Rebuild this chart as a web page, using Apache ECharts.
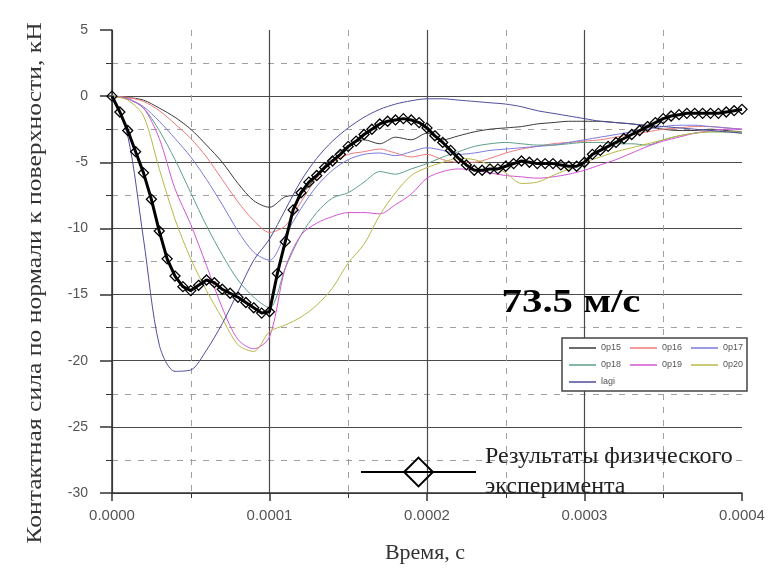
<!DOCTYPE html>
<html>
<head>
<meta charset="utf-8">
<script src="https://cdn.jsdelivr.net/npm/echarts@6/dist/echarts.min.js"></script>
<style>
  html, body { margin: 0; padding: 0; background: #fff; }
  #chart { width: 781px; height: 572px; }
</style>
</head>
<body>
<div id="chart"></div>
<script>
// Contact force normal to the surface, kN, versus time, s (impact at 73.5 m/s)

// Simulation runs, sampled every 1e-5 s from 0 to 4e-4 s
const simStep = 0.00001;
const simCount = 41;
const p15 = [0, -0.1, -0.3, -0.9, -1.6, -2.5, -3.7, -5.0, -6.6, -7.9, -8.4,
  -7.6, -7.4, -6.0, -4.6, -3.8, -3.3, -3.6, -3.1, -3.3, -2.8,
  -3.3, -3.0, -2.7, -2.5, -2.4, -2.3, -2.1, -2.0, -1.9, -1.9,
  -1.9, -2.0, -2.1, -2.3, -2.5, -2.6, -2.6, -2.5, -2.6, -2.7];
const p16 = [0, -0.1, -0.4, -1.1, -2.1, -3.2, -4.6, -6.3, -8.0, -9.4, -10.3,
  -9.8, -8.0, -6.2, -5.0, -4.4, -4.2, -4.0, -4.3, -4.6, -4.4,
  -4.8, -5.0, -5.0, -4.7, -4.3, -4.0, -3.8, -3.6, -3.5, -3.4,
  -3.3, -3.1, -2.9, -2.7, -2.5, -2.4, -2.3, -2.3, -2.4, -2.5];
const p17 = [0, -0.2, -0.8, -1.9, -3.2, -4.6, -6.3, -8.2, -10.2, -11.8, -12.4,
  -10.5, -8.5, -6.8, -5.6, -4.8, -4.4, -4.3, -4.5, -4.2, -3.9,
  -4.1, -4.4, -4.3, -4.1, -4.0, -3.9, -3.8, -3.7, -3.5, -3.3,
  -3.1, -2.9, -2.7, -2.5, -2.3, -2.2, -2.2, -2.3, -2.4, -2.5];
const p18 = [0, -0.2, -0.9, -2.6, -4.8, -7.3, -9.8, -12.0, -13.9, -15.2, -16.0,
  -13.0, -10.5, -8.8, -7.7, -7.3, -6.5, -5.7, -5.9, -5.5, -5.1,
  -4.6, -4.2, -3.8, -3.6, -3.5, -3.6, -3.7, -3.7, -3.6, -3.5,
  -3.5, -3.6, -3.6, -3.7, -3.3, -3.0, -2.8, -2.7, -2.7, -2.8];
const p19 = [0, -0.2, -0.9, -3.2, -7.0, -9.7, -12.8, -16.0, -18.4, -19.1, -18.2,
  -13.0, -10.5, -9.6, -9.1, -8.8, -8.8, -8.9, -8.2, -7.4, -6.2,
  -5.7, -5.5, -5.6, -5.8, -6.0, -6.1, -6.2, -6.1, -5.9, -5.6,
  -5.2, -4.8, -4.3, -3.8, -3.4, -3.1, -2.8, -2.6, -2.5, -2.5];
const p20 = [0, -0.3, -1.5, -5.5, -9.3, -12.3, -14.7, -16.8, -18.8, -19.3, -17.8,
  -17.3, -16.7, -15.8, -14.5, -12.6, -11.2, -9.0, -7.3, -6.0, -5.4,
  -5.0, -4.7, -4.8, -5.2, -5.8, -6.6, -6.5, -6.0, -5.5, -5.0,
  -4.6, -4.2, -3.9, -3.6, -3.3, -3.0, -2.8, -2.7, -2.7, -2.7];
const lagi = [0, -3.0, -10.8, -18.8, -20.8, -20.7, -19.2, -17.2, -14.8, -12.4, -10.8,
  -8.6, -6.4, -4.7, -3.4, -2.4, -1.6, -1.0, -0.6, -0.35, -0.2,
  -0.2, -0.3, -0.4, -0.5, -0.6, -0.8, -1.1, -1.3, -1.5, -1.7,
  -1.9, -2.0, -2.1, -2.2, -2.3, -2.4, -2.5, -2.6, -2.7, -2.8];

// Physical experiment, sampled every 5e-6 s
const expStep = 0.000005;
const expCount = 81;
const experiment = [0, -1.2, -2.6, -4.2, -5.8, -7.8, -10.2, -12.3, -13.6, -14.4, -14.7,
  -14.3, -13.9, -14.1, -14.6, -14.9, -15.2, -15.6, -16.0, -16.4, -16.3,
  -13.4, -11.0, -8.6, -7.3, -6.5, -6.0, -5.4, -4.9, -4.4, -3.8,
  -3.4, -2.9, -2.5, -2.1, -1.9, -1.8, -1.7, -1.8, -2.0, -2.4,
  -3.0, -3.5, -4.1, -4.7, -5.2, -5.6, -5.6, -5.5, -5.5, -5.3,
  -5.1, -4.9, -5.0, -5.1, -5.1, -5.1, -5.2, -5.3, -5.3, -5.0,
  -4.4, -4.1, -3.8, -3.5, -3.2, -2.9, -2.6, -2.3, -2.0, -1.7,
  -1.5, -1.4, -1.3, -1.3, -1.3, -1.3, -1.3, -1.2, -1.1, -1.0];

const runNames = ['0p15', '0p16', '0p17', '0p18', '0p19', '0p20', 'lagi'];
const runValues = [p15, p16, p17, p18, p19, p20, lagi];
const runColors = ['#3a3a3a', '#f07a7a', '#7a7ae0', '#5e9e88', '#d455d4', '#b9b94a', '#4e4e9c'];
const expName = 'Результаты физического эксперимента';

const yTitle = 'Контактная сила по нормали к поверхности, кН';
const xTitle = 'Время, с';
const speedNote = '73.5 м/с';

// sampling grids for the two data sets
const simTime = Array.from({ length: simCount }, (_, i) => +(i * simStep).toFixed(6));
const expTime = Array.from({ length: expCount }, (_, i) => +(i * expStep).toFixed(6));

const pair = (ts, vs) => vs.map((v, i) => [ts[i], v]);

const serif = '"Liberation Serif", "Times New Roman", serif';
const sans = '"Liberation Sans", Arial, sans-serif';
const major = '#4a4a4a';

const series = runNames.map((name, k) => ({
  name: name,
  type: 'line',
  data: pair(simTime, runValues[k]),
  symbol: 'none',
  smooth: 0.3,
  z: 2,
  lineStyle: { color: runColors[k], width: 1 },
  itemStyle: { color: runColors[k] }
}));

series.push({
  name: expName,
  type: 'line',
  data: pair(expTime, experiment),
  symbol: 'diamond',
  symbolSize: 10,
  showAllSymbol: true,
  z: 4,
  lineStyle: { color: '#000', width: 3 },
  itemStyle: { color: 'rgba(255,255,255,0)', borderColor: '#000', borderWidth: 1.3 }
});

const chart = echarts.init(document.getElementById('chart'), null, { renderer: 'canvas' });
chart.setOption({
  animation: false,
  backgroundColor: '#fff',
  grid: { left: 112, right: 39, top: 30, bottom: 79 },
  xAxis: {
    type: 'value', min: 0, max: 0.0004, interval: 0.0001,
    axisLine: { show: true, onZero: false, lineStyle: { color: '#333', width: 1.5 } },
    axisTick: { show: true, length: 8, lineStyle: { color: '#333', width: 1.5 } },
    minorTick: { show: true, splitNumber: 2, length: 5, lineStyle: { color: '#333' } },
    splitLine: { show: true, showMaxLine: false,
      lineStyle: { color: [major, major, major, major, 'rgba(0,0,0,0)'], width: 1.2 } },
    minorSplitLine: { show: true, lineStyle: { color: '#a0a0a0', type: [6, 7], width: 1 } },
    axisLabel: { color: '#555', fontSize: 15, fontFamily: sans, margin: 15,
      formatter: v => v.toFixed(4) }
  },
  yAxis: {
    type: 'value', min: -30, max: 5, interval: 5,
    axisLine: { show: true, onZero: false, lineStyle: { color: '#333', width: 1.5 } },
    axisTick: { show: true, length: 12, lineStyle: { color: '#333', width: 1.5 } },
    minorTick: { show: true, splitNumber: 2, length: 6, lineStyle: { color: '#333' } },
    splitLine: { show: true, showMaxLine: false,
      lineStyle: { color: [major, major, major, major, major, major, major, 'rgba(0,0,0,0)'], width: 1.2 } },
    minorSplitLine: { show: true, lineStyle: { color: '#a0a0a0', type: [6, 7], width: 1 } },
    axisLabel: { color: '#555', fontSize: 14, fontFamily: sans, margin: 24 }
  },
  legend: [
    {
      data: runNames,
      orient: 'horizontal',
      icon: 'rect',
      left: 562, top: 338, width: 180,
      itemWidth: 27, itemHeight: 1.5, itemGap: 7,
      padding: [5, 2, 4, 7],
      backgroundColor: '#fff', borderColor: '#444', borderWidth: 1.5, borderRadius: 0,
      selectedMode: false, z: 6,
      textStyle: { color: '#555', fontSize: 9, fontFamily: sans, width: 22, lineHeight: 10 }
    },
    {
      data: [expName],
      left: 360, top: 442,
      itemWidth: 115, itemHeight: 36, itemGap: 10,
      padding: 0, selectedMode: false, z: 6,
      formatter: () => 'Результаты физического\nэксперимента',
      textStyle: { color: '#222', fontSize: 24, fontFamily: serif, lineHeight: 30, padding: [0, 0, 0, 4] }
    }
  ],
  graphic: [
    {
      type: 'text', x: 35, y: 283, rotation: Math.PI / 2, scaleX: 1.22,
      style: { text: yTitle, fill: '#333', font: '21px ' + serif, align: 'center', verticalAlign: 'middle' }
    },
    {
      type: 'text', x: 425, y: 553,
      style: { text: xTitle, fill: '#333', font: '22px ' + serif, align: 'center', verticalAlign: 'middle' }
    },
    {
      type: 'text', x: 571, y: 303, scaleX: 1.2, z: 5,
      style: { text: speedNote, fill: '#000', font: 'bold 34px ' + serif, align: 'center', verticalAlign: 'middle' }
    }
  ],
  series: series
});
</script>
</body>
</html>
